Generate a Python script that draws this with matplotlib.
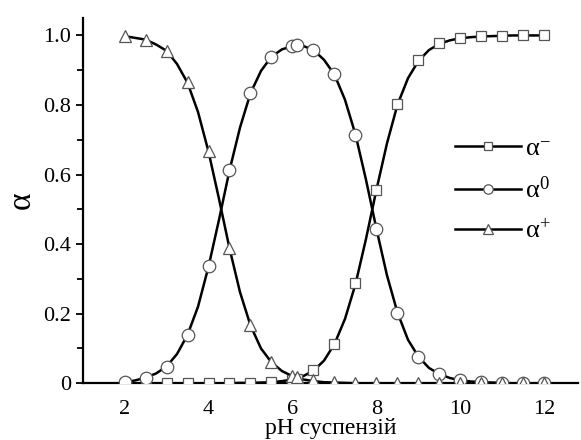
import matplotlib
matplotlib.use("Agg")
import matplotlib.pyplot as plt
from matplotlib.ticker import MultipleLocator

plt.rcParams['font.family'] = ['Liberation Serif', 'DejaVu Serif']
plt.rcParams['mathtext.fontset'] = 'custom'
plt.rcParams['mathtext.rm'] = 'Liberation Serif'
plt.rcParams['mathtext.default'] = 'regular'

# marker points
ph_pts = [2, 2.5, 3, 3.5, 4, 4.5, 5, 5.5, 6, 6.1, 6.5, 7, 7.5, 8, 8.5, 9, 9.5,
          10, 10.5, 11, 11.5, 12]
alpha_minus = [0, 0, 0, 0, 0, 0, 0.001, 0.003, 0.01, 0.013, 0.038, 0.114, 0.288,
               0.557, 0.802, 0.928, 0.977, 0.993, 0.998, 0.999, 1.0, 1.0]
alpha_zero = [0.003, 0.016, 0.048, 0.139, 0.337, 0.614, 0.834, 0.939, 0.969, 0.972,
              0.958, 0.888, 0.715, 0.443, 0.203, 0.076, 0.026, 0.008, 0.003, 0.001,
              0, 0]
alpha_plus = [0.999, 0.988, 0.956, 0.866, 0.667, 0.388, 0.168, 0.061, 0.022, 0.018,
              0.008, 0.003, 0.001, 0, 0, 0, 0, 0, 0, 0, 0, 0]

# smooth curves (read at quarter steps)
ph_line = [2, 2.25, 2.5, 2.75, 3, 3.25, 3.5, 3.75, 4, 4.25, 4.5, 4.75, 5, 5.25,
           5.5, 5.75, 6, 6.25, 6.5, 6.75, 7, 7.25, 7.5, 7.75, 8, 8.25, 8.5, 8.75,
           9, 9.25, 9.5, 9.75, 10, 10.25, 10.5, 10.75, 11, 11.25, 11.5, 11.75, 12]
line_minus = [0, 0, 0, 0, 0, 0, 0, 0, 0, 0, 0, 0.001, 0.001, 0.002, 0.003, 0.006,
              0.011, 0.02, 0.036, 0.065, 0.113, 0.185, 0.285, 0.415, 0.557, 0.69,
              0.801, 0.877, 0.927, 0.958, 0.976, 0.986, 0.992, 0.995, 0.997, 0.998,
              0.999, 1.0, 1.0, 1.0, 1.0]
line_zero = [0.003, 0.008, 0.016, 0.028, 0.048, 0.084, 0.139, 0.22, 0.335, 0.47,
             0.612, 0.735, 0.834, 0.898, 0.939, 0.96, 0.969, 0.97, 0.958, 0.93,
             0.887, 0.815, 0.715, 0.585, 0.443, 0.31, 0.203, 0.125, 0.076, 0.044,
             0.026, 0.015, 0.008, 0.005, 0.003, 0.002, 0.001, 0, 0, 0, 0]
line_plus = [0.998, 0.993, 0.988, 0.974, 0.956, 0.918, 0.864, 0.78, 0.666, 0.53,
             0.388, 0.262, 0.166, 0.10, 0.06, 0.035, 0.02, 0.011, 0.006, 0.003,
             0.002, 0.001, 0, 0, 0, 0, 0, 0, 0, 0, 0, 0, 0, 0, 0, 0, 0, 0, 0, 0, 0]

fig = plt.figure(figsize=(5.81, 4.4), dpi=100)
ax = fig.add_axes([0.142, 0.129, 0.853, 0.83])

series = [
    (line_minus, alpha_minus, 's', 7.5, 'α$^{-}$'),
    (line_zero, alpha_zero, 'o', 9, 'α$^{0}$'),
    (line_plus, alpha_plus, '^', 9, 'α$^{+}$'),
]
handles = []
for line_vals, pts, mk, ms, lab in series:
    ax.plot(ph_line, line_vals, color='black', lw=1.8, zorder=2)
    ax.plot(ph_pts, pts, linestyle='none', marker=mk, ms=ms, mfc='white',
            mec='#555555', mew=0.9, zorder=3)
    h, = ax.plot([], [], color='black', lw=1.8, marker=mk, ms=ms * 0.75,
                 mfc='white', mec='#555555', mew=0.9, label=lab)
    handles.append(h)

ax.legend(handles=handles, loc='upper left', bbox_to_anchor=(0.751, 0.674),
          frameon=False, handlelength=2.5, handletextpad=0.15, labelspacing=0.6,
          fontsize=19, borderpad=0, borderaxespad=0)

ax.set_xlim(1, 12.8)
ax.set_ylim(0, 1.05)
ax.set_xticks([2, 4, 6, 8, 10, 12])
ax.set_yticks([0, 0.2, 0.4, 0.6, 0.8, 1.0])
ax.set_yticklabels(['0', '0.2', '0.4', '0.6', '0.8', '1.0'])
ax.yaxis.set_minor_locator(MultipleLocator(0.1))
ax.tick_params(axis='y', which='major', direction='out', length=5, width=1.3,
               labelsize=16, pad=3)
ax.tick_params(axis='y', which='minor', direction='out', length=4, width=1.3)
ax.tick_params(axis='x', which='major', direction='in', length=0, labelsize=16,
               pad=12)

for side in ['top', 'right']:
    ax.spines[side].set_visible(False)
for side in ['left', 'bottom']:
    ax.spines[side].set_linewidth(1.6)

ax.set_xlabel('pH суспензій', fontsize=17, labelpad=-1)
ax.set_ylabel('α', fontsize=24, labelpad=5)

fig.savefig('out.png', dpi=100)
